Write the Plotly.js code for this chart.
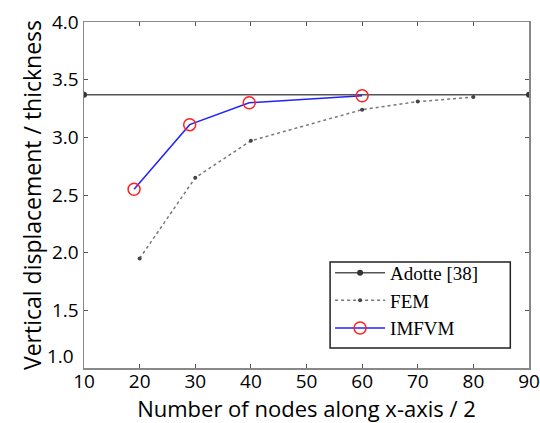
<!DOCTYPE html>
<html>
<head>
<meta charset="utf-8">
<script src="https://cdn.plot.ly/plotly-3.0.1.min.js"></script>
<style>html,body{margin:0;padding:0;background:#fff;}#chart{width:540px;height:423px;}</style>
</head>
<body>
<div id="chart"></div>
<script>
// Data
const adotteX = [10, 90];
const adotteY = [3.37, 3.37];
const femX = [20, 30, 40, 60, 70, 80];
const femY = [1.95, 2.65, 2.97, 3.24, 3.31, 3.35];
const imfvmX = [19, 29, 39.7, 60];
const imfvmY = [2.55, 3.11, 3.30, 3.36];
const xTicks = [10, 20, 30, 40, 50, 60, 70, 80, 90];
const yTicks = [1.0, 1.5, 2.0, 2.5, 3.0, 3.5, 4.0];

const traces = [
  {x: adotteX, y: adotteY, name: 'Adotte [38]', mode: 'lines+markers',
   line: {color: '#555555', width: 1.5}, marker: {color: '#333333', size: 6}},
  {x: femX, y: femY, name: 'FEM', mode: 'lines+markers',
   line: {color: '#777777', width: 1.5, dash: 'dot'}, marker: {color: '#444444', size: 4}},
  {x: imfvmX, y: imfvmY, name: 'IMFVM', mode: 'lines+markers',
   line: {color: '#2222ff', width: 1.5},
   marker: {symbol: 'circle-open', color: '#ff2020', size: 12, line: {width: 1.5, color: '#ff2020'}}}
];

const tickFont = {family: 'Open Sans, sans-serif', size: 19, color: '#000'};
const titleFont = {family: 'Open Sans, sans-serif', size: 22, color: '#000'};
// The lowest y label sits raised above its tick in the reference (to clear the x labels)
const yLabels = yTicks.map((v, i) => i === 0 ? '' : v.toFixed(1));
const layout = {
  width: 540, height: 423,
  margin: {l: 84, r: 11, t: 22, b: 55},
  paper_bgcolor: '#fff', plot_bgcolor: '#fff',
  showlegend: true,
  legend: {x: 0.553, y: 0.33, xanchor: 'left', yanchor: 'top',
    borderwidth: 0, bgcolor: 'rgba(0,0,0,0)',
    font: {family: 'Liberation Serif, Times New Roman, serif', size: 19, color: '#000'},
    itemwidth: 50, tracegroupgap: 0},
  shapes: [{type: 'rect', xref: 'paper', yref: 'paper', x0: 0.553, x1: 0.958, y0: 0.058, y1: 0.306,
    line: {color: '#222', width: 1.5}, fillcolor: '#fff', layer: 'above'}],
  annotations: [{xref: 'paper', yref: 'y', x: 0, y: yTicks[0], xanchor: 'right', yanchor: 'middle',
    xshift: -8, yshift: 12, text: yTicks[0].toFixed(1), showarrow: false, font: tickFont}],
  xaxis: {range: [10, 90], tickvals: xTicks, ticktext: xTicks.map(String),
    ticks: 'inside', ticklen: 4, tickcolor: '#555', mirror: 'ticks',
    showline: true, linecolor: '#888', linewidth: 1.5, showgrid: false, zeroline: false,
    ticklabeloverflow: 'allow', ticklabelstandoff: -4,
    tickfont: tickFont,
    title: {text: 'Number of nodes along x-axis / 2', font: titleFont, standoff: 10}},
  yaxis: {range: [1, 4], tickvals: yTicks, ticktext: yLabels,
    ticks: 'inside', ticklen: 4, tickcolor: '#555', mirror: 'ticks',
    showline: true, linecolor: '#888', linewidth: 1.5, showgrid: false, zeroline: false,
    ticklabeloverflow: 'allow',
    tickfont: tickFont,
    title: {text: 'Vertical displacement / thickness', font: {family: 'Open Sans, sans-serif', size: 23, color: '#000'}, standoff: 4}}
};

Plotly.newPlot('chart', traces, layout, {displayModeBar: false, staticPlot: true});
</script>
</body>
</html>
